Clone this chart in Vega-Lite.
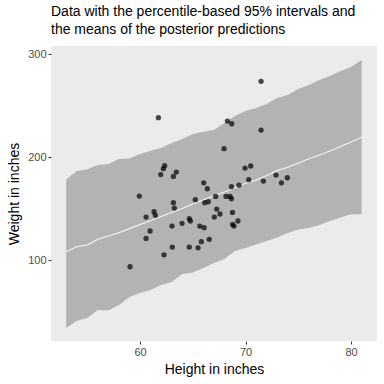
{
  "$schema": "https://vega.github.io/schema/vega-lite/v6.json",
  "width": 326,
  "height": 295,
  "autosize": {"type": "none"},
  "padding": {"left": 51, "top": 46, "right": 7, "bottom": 43},
  "background": "white",
  "config": {
    "font": "Liberation Sans",
    "view": {"fill": "#EBEBEB", "stroke": null},
    "axis": {
      "domain": false,
      "grid": false,
      "tickColor": "#333333",
      "tickSize": 3,
      "labelColor": "#4D4D4D",
      "labelFontSize": 11,
      "labelPadding": 2,
      "titleFontSize": 14,
      "titleFontWeight": "normal",
      "titleColor": "#000000",
      "labelFont": "Liberation Sans",
      "titleFont": "Liberation Sans"
    }
  },
  "title": {
    "text": ["Data with the percentile-based 95% intervals and", "the means of the posterior predictions"],
    "anchor": "start",
    "frame": "group",
    "fontSize": 14,
    "fontWeight": "normal",
    "font": "Liberation Sans",
    "color": "#000000",
    "offset": 9,
    "lineHeight": 18
  },
  "datasets": {
    "ribbon": [
      {"height": 53, "lower": 34, "upper": 178.3, "mean": 108.1},
      {"height": 54, "lower": 40.8, "upper": 186.4, "mean": 112.9},
      {"height": 55, "lower": 43.7, "upper": 188.1, "mean": 114.6},
      {"height": 56, "lower": 51.5, "upper": 192.2, "mean": 120.1},
      {"height": 57, "lower": 51, "upper": 193.2, "mean": 123.3},
      {"height": 58, "lower": 56.3, "upper": 198.1, "mean": 126.5},
      {"height": 59, "lower": 64.1, "upper": 198.7, "mean": 130.5},
      {"height": 60, "lower": 68, "upper": 202.9, "mean": 134.4},
      {"height": 61, "lower": 70.9, "upper": 206.1, "mean": 138.2},
      {"height": 62, "lower": 75.7, "upper": 208.7, "mean": 142.3},
      {"height": 63, "lower": 78.6, "upper": 213.6, "mean": 146.2},
      {"height": 64, "lower": 86.4, "upper": 217.5, "mean": 150.0},
      {"height": 65, "lower": 87.9, "upper": 222.3, "mean": 154.5},
      {"height": 66, "lower": 92.2, "upper": 224.6, "mean": 158.2},
      {"height": 67, "lower": 97.1, "upper": 226.2, "mean": 162.5},
      {"height": 68, "lower": 101, "upper": 233, "mean": 166.0},
      {"height": 69, "lower": 108.7, "upper": 239.8, "mean": 170.2},
      {"height": 70, "lower": 111.7, "upper": 244.7, "mean": 174.6},
      {"height": 71, "lower": 115, "upper": 247.6, "mean": 177.6},
      {"height": 72, "lower": 118.4, "upper": 251.5, "mean": 182.0},
      {"height": 73, "lower": 121.8, "upper": 257.3, "mean": 186.8},
      {"height": 74, "lower": 126.2, "upper": 260.2, "mean": 190.0},
      {"height": 75, "lower": 129.6, "upper": 266, "mean": 194.0},
      {"height": 76, "lower": 131.1, "upper": 269.9, "mean": 198.3},
      {"height": 77, "lower": 134, "upper": 274.8, "mean": 202.0},
      {"height": 78, "lower": 137.9, "upper": 278.6, "mean": 205.8},
      {"height": 79, "lower": 141.3, "upper": 283.5, "mean": 210.2},
      {"height": 80, "lower": 144.4, "upper": 287.4, "mean": 214.6},
      {"height": 81, "lower": 144.4, "upper": 294.2, "mean": 219.1}
    ],
    "points": [
      {"height": 59.05, "weight": 93.5},
      {"height": 59.93, "weight": 162.1},
      {"height": 60.57, "weight": 141.7},
      {"height": 60.57, "weight": 121},
      {"height": 60.95, "weight": 128.2},
      {"height": 61.33, "weight": 146.9},
      {"height": 61.45, "weight": 143.4},
      {"height": 61.74, "weight": 238.2},
      {"height": 61.96, "weight": 183},
      {"height": 62.21, "weight": 188.7},
      {"height": 62.34, "weight": 191.6},
      {"height": 62.27, "weight": 105.1},
      {"height": 63.03, "weight": 133},
      {"height": 63.06, "weight": 112.6},
      {"height": 63.16, "weight": 155.7},
      {"height": 63.25, "weight": 150.5},
      {"height": 63.16, "weight": 181.2},
      {"height": 63.44, "weight": 185.4},
      {"height": 63.98, "weight": 135.6},
      {"height": 64.67, "weight": 140.1},
      {"height": 64.77, "weight": 137.9},
      {"height": 64.67, "weight": 112.6},
      {"height": 65.24, "weight": 158.6},
      {"height": 65.5, "weight": 111.9},
      {"height": 65.66, "weight": 133},
      {"height": 65.81, "weight": 117.8},
      {"height": 66.04, "weight": 175},
      {"height": 66.07, "weight": 131.4},
      {"height": 66.13, "weight": 155.7},
      {"height": 66.38, "weight": 169.2},
      {"height": 66.47, "weight": 156.6},
      {"height": 66.56, "weight": 120.1},
      {"height": 67.04, "weight": 141.7},
      {"height": 67.17, "weight": 161.8},
      {"height": 67.27, "weight": 149.5},
      {"height": 67.58, "weight": 144.7},
      {"height": 67.96, "weight": 208.1},
      {"height": 68.15, "weight": 161.8},
      {"height": 68.28, "weight": 234.9},
      {"height": 68.53, "weight": 161.8},
      {"height": 68.66, "weight": 159.5},
      {"height": 68.69, "weight": 232.3},
      {"height": 68.66, "weight": 171.2},
      {"height": 68.76, "weight": 146.2},
      {"height": 68.78, "weight": 134.6},
      {"height": 68.9, "weight": 133},
      {"height": 69.28, "weight": 137.9},
      {"height": 69.38, "weight": 172.8},
      {"height": 69.95, "weight": 189.3},
      {"height": 70.3, "weight": 178},
      {"height": 70.49, "weight": 191.3},
      {"height": 71.47, "weight": 273.5},
      {"height": 71.47, "weight": 226.2},
      {"height": 71.69, "weight": 176.7},
      {"height": 72.89, "weight": 182.5},
      {"height": 73.4, "weight": 175},
      {"height": 73.96, "weight": 179.9}
    ]
  },
  "layer": [
    {
      "data": {"name": "ribbon"},
      "mark": {"type": "area", "color": "#B3B3B3", "opacity": 1},
      "encoding": {
        "x": {"field": "height", "type": "quantitative", "scale": {"domain": [51.56, 82.46], "nice": false, "zero": false}, "axis": {"values": [60, 70, 80], "title": "Height in inches", "titlePadding": 5}},
        "y": {"field": "lower", "type": "quantitative", "scale": {"domain": [21.4, 307.8], "nice": false, "zero": false}, "axis": {"values": [100, 200, 300], "title": "Weight in inches", "titlePadding": 6}},
        "y2": {"field": "upper"}
      }
    },
    {
      "data": {"name": "ribbon"},
      "mark": {"type": "line", "color": "#F5F5F5", "strokeWidth": 1.1},
      "encoding": {
        "x": {"field": "height", "type": "quantitative"},
        "y": {"field": "mean", "type": "quantitative"}
      }
    },
    {
      "data": {"name": "points"},
      "mark": {"type": "circle", "color": "#000000", "opacity": 0.7, "size": 28},
      "encoding": {
        "x": {"field": "height", "type": "quantitative"},
        "y": {"field": "weight", "type": "quantitative"}
      }
    }
  ]
}
